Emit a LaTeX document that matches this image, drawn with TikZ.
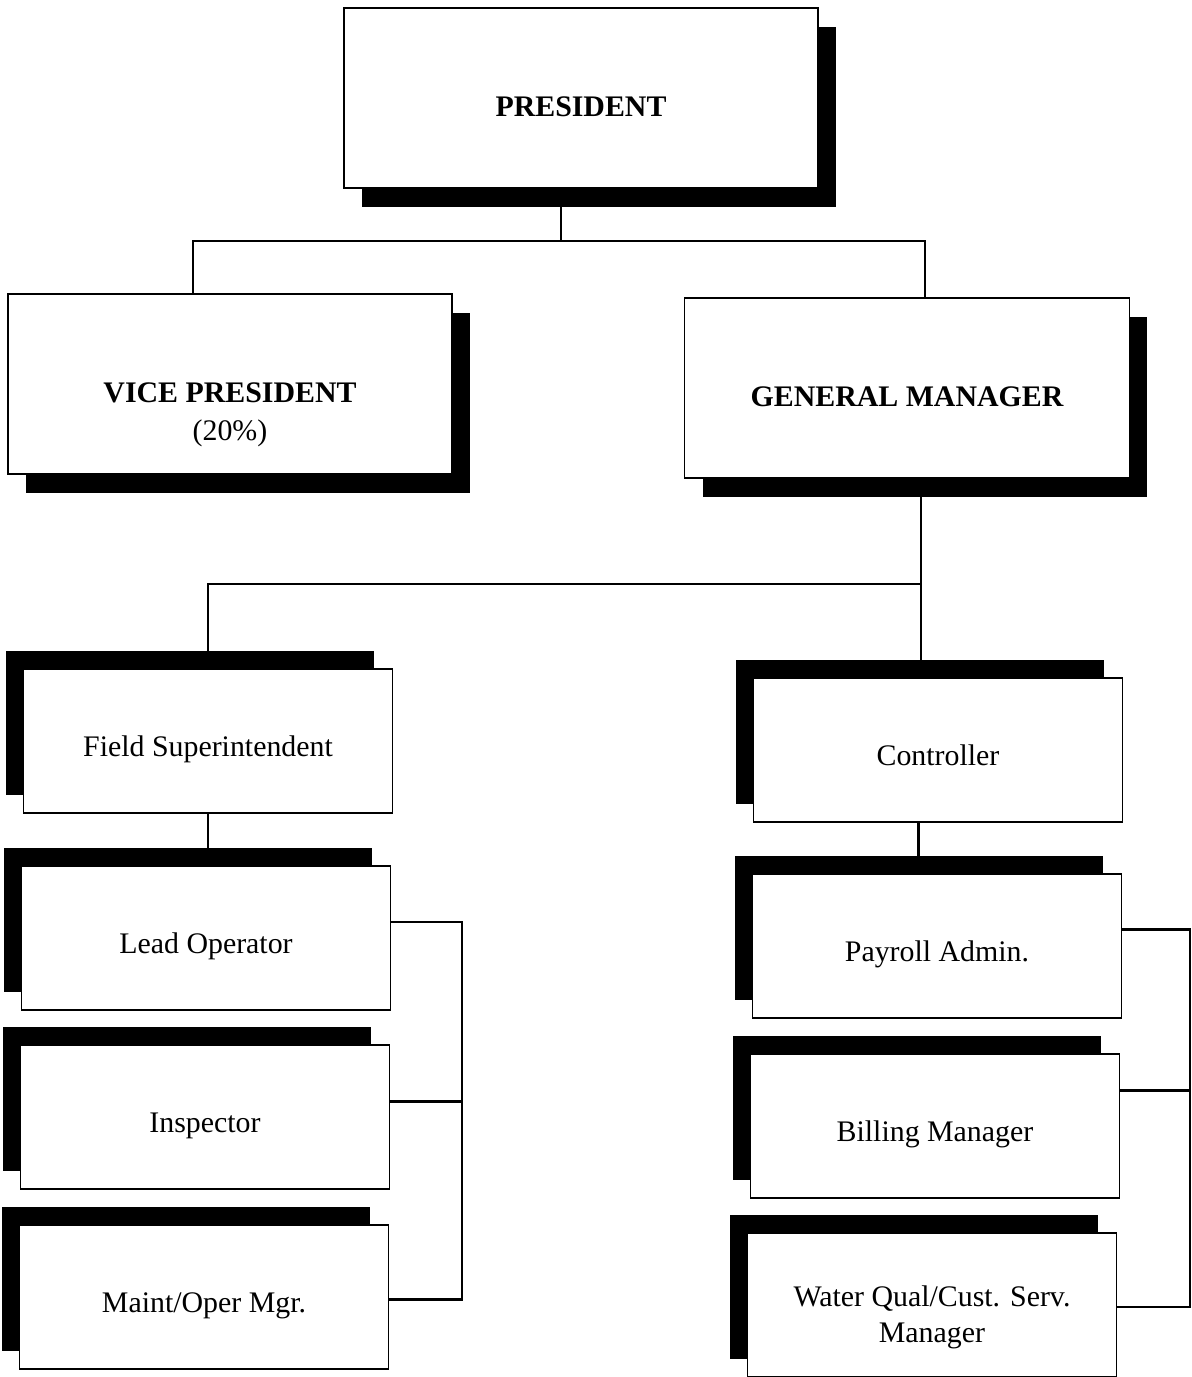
\documentclass[tikz,border=0pt]{standalone}
\usepackage{fontspec}
\setmainfont{Liberation Serif}
\usetikzlibrary{shadows}

\begin{document}
\begin{tikzpicture}[x=0.02cm,y=-0.02cm,
  topbox/.style={draw,line width=1pt,fill=white,minimum height=3.6cm,align=center,
    font=\fontsize{17}{21.6}\selectfont\bfseries,text height=21pt,text depth=0pt,
    general shadow={fill=black,shadow xshift=0.36cm,shadow yshift=-0.38cm}},
  staffbox/.style={draw,line width=1pt,fill=white,minimum width=7.38cm,minimum height=2.88cm,align=center,
    font=\fontsize{17}{20.5}\selectfont,text height=22pt,text depth=4pt,
    general shadow={fill=black,shadow xshift=-0.36cm,shadow yshift=0.36cm}},
  link/.style={line width=1.2pt}]
  \useasboundingbox (0,0) rectangle (1192,1377);
  % Top level
  \node[topbox,minimum width=9.48cm] (pres) at (581,98) {PRESIDENT};
  \node[topbox,minimum width=8.88cm,text height=64pt] (vp) at (230,384) {VICE PRESIDENT\\\mdseries(20\%)};
  \node[topbox,minimum width=8.9cm] (gm) at (907,388) {GENERAL MANAGER};
  % Field side
  \node[staffbox] (fs) at (208,741) {Field Superintendent};
  \node[staffbox] (lead) at (206,938) {Lead Operator};
  \node[staffbox] (insp) at (205,1117) {Inspector};
  \node[staffbox] (maint) at (204,1297) {Maint/Oper Mgr.};
  % Office side
  \node[staffbox] (ctrl) at (938,750) {Controller};
  \node[staffbox] (pay) at (937,946) {Payroll Admin.};
  \node[staffbox] (bill) at (935,1126) {Billing Manager};
  \node[staffbox,text height=43pt,text depth=0pt] (water) at (932,1305) {Water Qual/Cust. Serv.\\Manager};
  % Connectors
  \draw[link] ([xshift=-0.4cm]pres.south) -- ++(0,52) coordinate (pj);
  \draw[link] ([xshift=-0.74cm]vp.north) |- (pj) -| ([xshift=0.36cm]gm.north);
  \draw[link] ([xshift=0.28cm]gm.south) -- ++(0,105) coordinate (gj)
    -- ([xshift=0.28cm]gm.south |- ctrl.north);
  \draw[link] (gj) -| (fs.north);
  \draw[link] (fs.south) -- (fs.south |- lead.north);
  \draw[link] ([xshift=-0.39cm]ctrl.south) -- ([xshift=-0.39cm]ctrl.south |- pay.north);
  % Brackets
  \draw[link] ([yshift=0.32cm]lead.east) -- ++(71,0) coordinate (lb) |- ([yshift=-0.05cm]maint.east);
  \draw[link] ([yshift=0.31cm]insp.east) -- ([yshift=0.31cm]insp.east -| lb);
  \draw[link] ([yshift=0.33cm]pay.east) -- ++(68,0) coordinate (rb) |- ([yshift=-0.04cm]water.east);
  \draw[link] ([yshift=0.71cm]bill.east) -- ([yshift=0.71cm]bill.east -| rb);
\end{tikzpicture}
\end{document}
